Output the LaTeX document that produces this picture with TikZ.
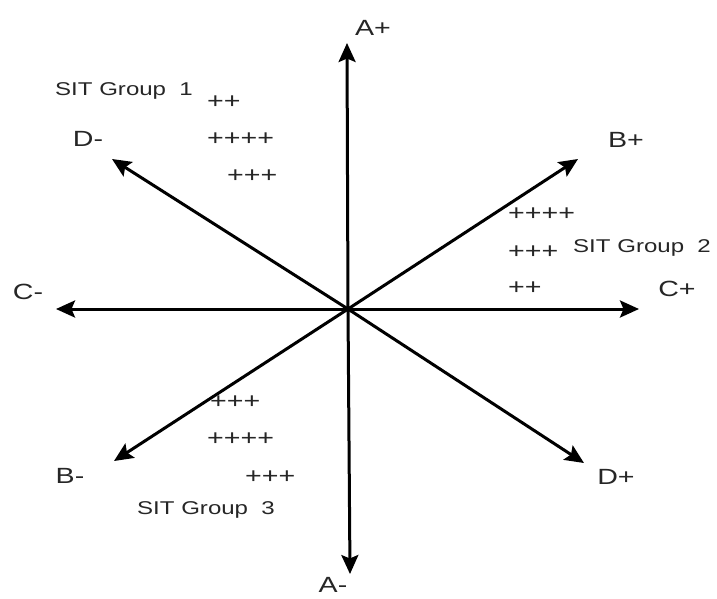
\documentclass[tikz,border=0pt]{standalone}
\usepackage{fontspec}
\setmainfont{Liberation Sans}[FakeStretch=1.3]
\usetikzlibrary{arrows.meta}
\tikzset{
  axis/.style={line width=3pt, black, -{Stealth[length=19pt,width=17pt,inset=3.5pt]}},
  axlabel/.style={inner sep=0pt, text=black!85, font=\fontsize{22}{26}\selectfont},
  pluses/.style={inner sep=0pt, anchor=west, text=black!85, font=\fontsize{22}{26}\selectfont},
  grouplabel/.style={inner sep=0pt, anchor=base west, text=black!85, font=\fontsize{18.5}{22}\selectfont},
}
\begin{document}
\begin{tikzpicture}[x=1pt,y=-1pt]
\useasboundingbox (0,0) rectangle (717,598);
% centre and arrow tips
\coordinate (O) at (348,309);
\coordinate (Ap) at (347,43);
\coordinate (Am) at (350,574);
\coordinate (Cm) at (56,309);
\coordinate (Cp) at (639,309);
\coordinate (Bp) at (578,159);
\coordinate (Dm) at (112,159);
\coordinate (Bm) at (114,461);
\coordinate (Dp) at (584,463);
% axes
\draw[axis] (O) -- (Ap);
\draw[axis] (O) -- (Am);
\draw[axis] (O) -- (Cm);
\draw[axis] (O) -- (Cp);
\draw[axis] (O) -- (Bp);
\draw[axis] (O) -- (Dm);
\draw[axis] (O) -- (Bm);
\draw[axis] (O) -- (Dp);
% axis labels
\node[axlabel] (lAp) at (373,28) {A+};
\node[axlabel] (lAm) at (333,585) {A-};
\node[axlabel] (lCm) at (28,292) {C-};
\node[axlabel] (lCp) at (677,289) {C+};
\node[axlabel] (lBp) at (626,140) {B+};
\node[axlabel] (lDm) at (88,139) {D-};
\node[axlabel] (lBm) at (70,476) {B-};
\node[axlabel] (lDp) at (616,477) {D+};
% group 1
\node[grouplabel] (g1) at (55,95) {SIT Group~~1};
\node[pluses] (g1a) at (207,102) {++};
\node[pluses] (g1b) at (207,139) {++++};
\node[pluses] (g1c) at (227,176) {+++};
% group 2
\node[grouplabel] (g2) at (573,252) {SIT Group~~2};
\node[pluses] (g2a) at (508,214) {++++};
\node[pluses] (g2b) at (508,252) {+++};
\node[pluses] (g2c) at (508,288) {++};
% group 3
\node[grouplabel] (g3) at (137,514) {SIT Group~~3};
\node[pluses] (g3a) at (210,402) {+++};
\node[pluses] (g3b) at (207,439) {++++};
\node[pluses] (g3c) at (245,477) {+++};
\end{tikzpicture}
\end{document}
